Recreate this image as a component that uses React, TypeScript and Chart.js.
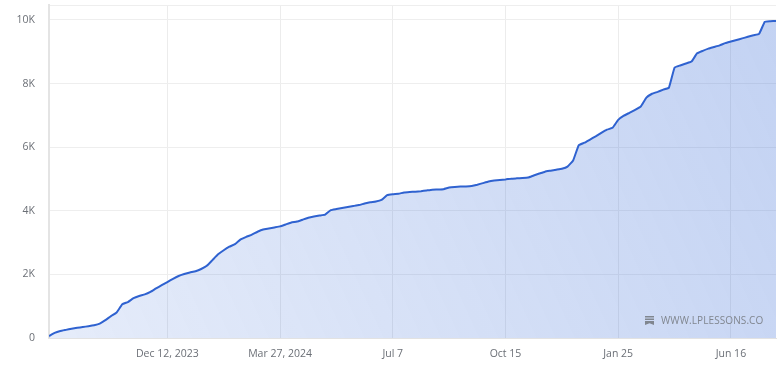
import React, { useEffect, useRef } from "react";
import { Chart, registerables } from "chart.js";

Chart.register(...registerables);

// Cumulative P&L per trade index
const pnlValues: number[] = [
  60, 160, 220, 255, 290, 320, 345, 370, 400, 450,
  560, 690, 800, 1060, 1130, 1250, 1320, 1370, 1450, 1560,
  1660, 1760, 1860, 1950, 2010, 2060, 2100, 2170, 2270, 2450,
  2630, 2760, 2870, 2950, 3100, 3180, 3250, 3340, 3410, 3440,
  3475, 3510, 3570, 3630, 3660, 3720, 3780, 3820, 3850, 3880,
  4020, 4055, 4090, 4120, 4150, 4180, 4230, 4270, 4290, 4340,
  4490, 4520, 4535, 4575, 4590, 4600, 4615, 4640, 4665, 4670,
  4680, 4730, 4750, 4760, 4765, 4780, 4820, 4870, 4920, 4950,
  4970, 4985, 5010, 5020, 5030, 5045, 5110, 5170, 5230, 5260,
  5290, 5320, 5390, 5580, 6060, 6140, 6240, 6340, 6450, 6550,
  6610, 6860, 6990, 7080, 7170, 7280, 7560, 7680, 7740, 7810,
  7870, 8500, 8570, 8630, 8690, 8950, 9030, 9100, 9150, 9200,
  9270, 9320, 9370, 9420, 9470, 9520, 9560, 9940, 9960, 9970,
];

const tickIndices: number[] = [21, 41, 61, 81, 101, 121];
const tickLabels: string[] = ["Dec 12, 2023", "Mar 27, 2024", "Jul 7", "Oct 15", "Jan 25", "Jun 16"];

const yTickValues: number[] = [0, 2000, 4000, 6000, 8000, 10000];
const yTickLabels: string[] = ["0", "2K", "4K", "6K", "8K", "10K"];
const yMax = 10470;

const FONT = "'Open Sans', 'Noto Sans', sans-serif";

export default function App() {
  const canvasRef = useRef<HTMLCanvasElement | null>(null);

  useEffect(() => {
    document.body.style.margin = "0";
    const canvas = canvasRef.current;
    if (!canvas) return;
    const points = pnlValues.map((v, i) => ({ x: i, y: v }));
    const chart = new Chart(canvas, {
      type: "line",
      data: {
        datasets: [
          {
            data: points,
            borderColor: "#2f62d0",
            borderWidth: 2,
            pointRadius: 0,
            tension: 0.1,
            fill: "origin",
            backgroundColor: (ctx: any) => {
              const c = ctx.chart;
              const area = c.chartArea;
              if (!area) return "rgba(60,110,215,0.2)";
              const g = c.ctx.createLinearGradient(area.left, area.bottom, area.right, area.top);
              g.addColorStop(0, "rgba(60,110,215,0.13)");
              g.addColorStop(1, "rgba(60,110,215,0.31)");
              return g;
            },
          },
        ],
      },
      options: {
        animation: false,
        responsive: false,
        maintainAspectRatio: false,
        layout: { padding: { top: 5, right: 4, left: 0, bottom: 0 } },
        plugins: { legend: { display: false }, tooltip: { enabled: false } },
        scales: {
          x: {
            type: "linear",
            min: 0,
            max: pnlValues.length - 1,
            afterBuildTicks: (scale: any) => {
              scale.ticks = tickIndices.map((v) => ({ value: v }));
            },
            afterFit: (scale: any) => {
              scale.height = 37;
              scale.paddingLeft = 0;
              scale.paddingRight = 0;
            },
            ticks: {
              autoSkip: false,
              maxRotation: 0,
              padding: 10,
              color: "#6b6f76",
              font: { family: FONT, size: 10.5 },
              callback: (value: any) => {
                const k = tickIndices.indexOf(Number(value));
                return k >= 0 ? tickLabels[k] : "";
              },
            },
            grid: { color: "#ececec", drawTicks: false },
            border: { color: "#e2e2e2", width: 1 },
          },
          y: {
            min: 0,
            max: yMax,
            afterBuildTicks: (scale: any) => {
              scale.ticks = [...yTickValues, yMax].map((v) => ({ value: v }));
            },
            afterFit: (scale: any) => {
              scale.width = 49;
              scale.paddingTop = 0;
              scale.paddingBottom = 0;
            },
            ticks: {
              autoSkip: false,
              padding: 14,
              color: "#6b6f76",
              font: { family: FONT, size: 10.5 },
              callback: (value: any) => {
                const k = yTickValues.indexOf(Number(value));
                return k >= 0 ? yTickLabels[k] : "";
              },
            },
            grid: { color: "#eeeeee", drawTicks: false },
            border: { color: "#e4e4e4", width: 2 },
          },
        },
      },
    });
    return () => chart.destroy();
  }, []);

  return (
    <div style={{ position: "absolute", left: 0, top: 0, width: 780, height: 375 }}>
      <canvas ref={canvasRef} width={780} height={375} style={{ width: 780, height: 375, display: "block" }} />
      <div
        style={{
          position: "absolute",
          left: 645,
          top: 313,
          display: "flex",
          alignItems: "center",
          gap: 7,
          fontFamily: FONT,
          fontSize: 10,
          color: "#80868f",
          letterSpacing: 0.1,
          whiteSpace: "nowrap",
        }}
      >
        <svg width="9" height="9" viewBox="0 0 9 9">
          <rect x="0" y="0" width="9" height="1.5" fill="#80868f" />
          <rect x="0" y="2.5" width="9" height="1.5" fill="#80868f" />
          <path d="M0 5 H9 V9 L4.5 7.3 L0 9 Z" fill="#80868f" />
        </svg>
        <span>WWW.LPLESSONS.CO</span>
      </div>
    </div>
  );
}
